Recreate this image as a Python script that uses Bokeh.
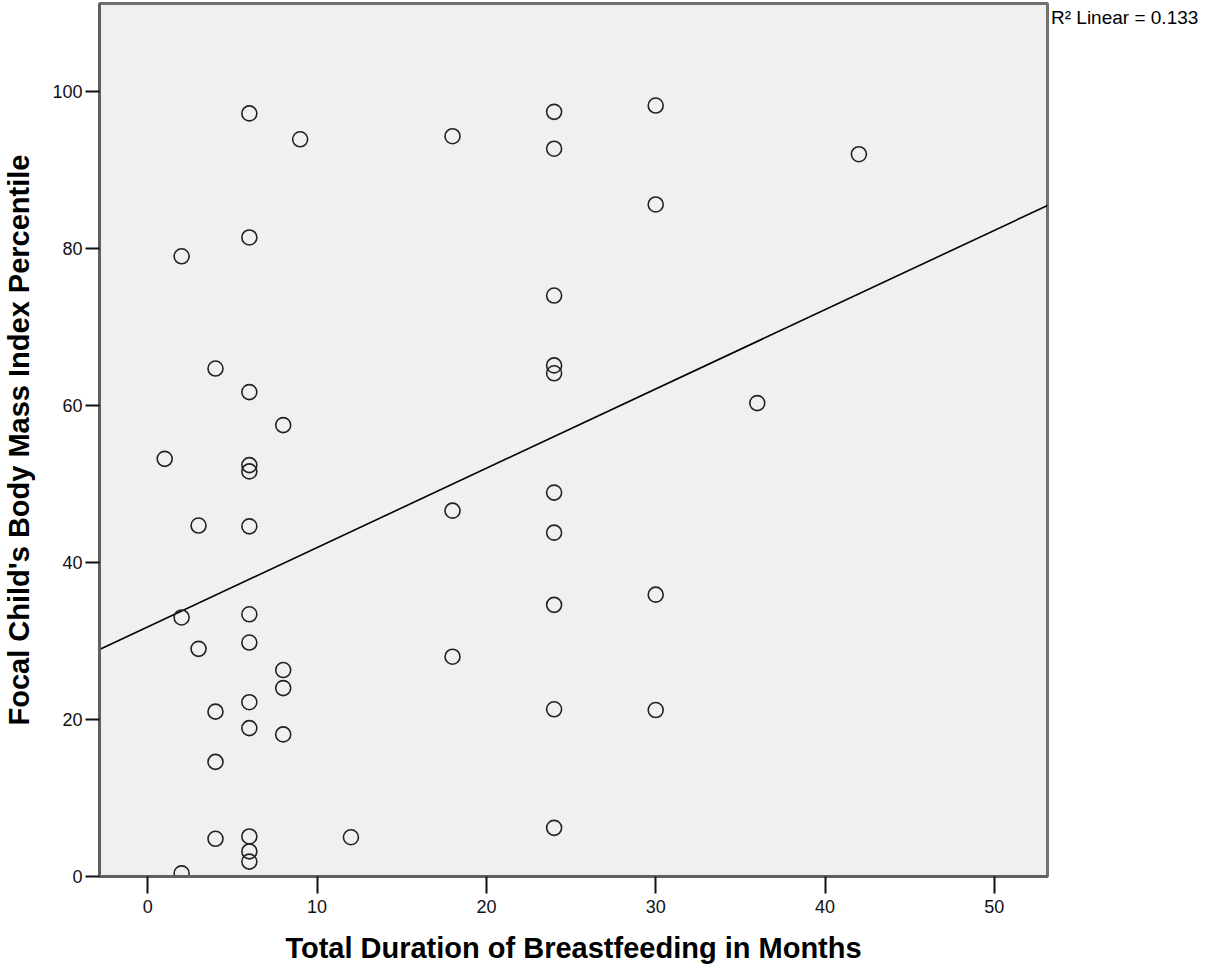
from bokeh.plotting import figure
from bokeh.models import Range1d, FixedTicker, ColumnDataSource, Legend, LegendItem
from bokeh.embed import file_html
from bokeh.resources import INLINE

# Data
bf_months = [6, 9, 18, 24, 24, 30, 30, 42, 6, 2, 24, 4, 24, 24, 6, 36, 8, 1, 6, 6,
             24, 18, 3, 6, 24, 24, 30, 2, 6, 3, 6, 18, 8, 8, 6, 4, 24, 30, 6, 8,
             4, 4, 6, 6, 6, 2, 12, 24]
bmi_pct = [97.2, 93.9, 94.3, 97.4, 92.7, 98.2, 85.6, 92.0, 81.4, 79.0, 74.0, 64.7, 65.1, 64.1,
           61.7, 60.3, 57.5, 53.2, 52.4, 51.6, 48.9, 46.6, 44.7, 44.6, 43.8, 34.6, 35.9, 33.0,
           33.4, 29.0, 29.8, 28.0, 26.3, 24.0, 22.2, 21.0, 21.3, 21.2, 18.9, 18.1, 14.6, 4.8,
           5.1, 3.2, 1.9, 0.4, 5.0, 6.2]
fit_intercept = 31.8
fit_slope = 1.01
r2_text = "R\u00b2 Linear = 0.133"
x_ticks = [0, 10, 20, 30, 40, 50]
y_ticks = [0, 20, 40, 60, 80, 100]

x_start, x_end = -2.85, 53.14
y_start, y_end = 0, 111.2

p = figure(frame_width=948, frame_height=873, output_backend="svg", toolbar_location=None,
           x_range=Range1d(x_start, x_end), y_range=Range1d(y_start, y_end),
           min_border_left=99, min_border_right=160, min_border_top=3,
           min_border_bottom=83)

p.background_fill_color = "#F0F0F0"
p.border_fill_color = "white"
p.outline_line_color = "#707070"
p.outline_line_width = 3
p.grid.visible = False

FONT = "Liberation Sans"
for ax in (p.xaxis[0], p.yaxis[0]):
    ax.axis_line_color = "#606060"
    ax.axis_line_width = 3
    ax.major_tick_line_color = "#111111"
    ax.major_tick_line_width = 2
    ax.major_tick_in = 0
    ax.minor_tick_line_color = None
    ax.major_label_text_font = FONT
    ax.major_label_text_font_size = "18px"
    ax.major_label_text_color = "#111111"
    ax.axis_label_text_font = FONT
    ax.axis_label_text_font_style = "bold"
    ax.axis_label_text_font_size = "29px"
    ax.axis_label_text_color = "#000000"

p.xaxis.ticker = FixedTicker(ticks=x_ticks)
p.yaxis.ticker = FixedTicker(ticks=y_ticks)
p.xaxis.major_tick_out = 17
p.yaxis.major_tick_out = 14
p.xaxis.major_label_standoff = 6
p.yaxis.major_label_standoff = 3
p.xaxis.axis_label = "Total Duration of Breastfeeding in Months"
p.yaxis.axis_label = "Focal Child's Body Mass Index Percentile"
p.xaxis.axis_label_standoff = 16
p.yaxis.axis_label_standoff = 14

# regression line
fx = [x_start, x_end]
fy = [fit_intercept + fit_slope * v for v in fx]
p.line(fx, fy, line_color="#000000", line_width=1.6)

src = ColumnDataSource(dict(x=bf_months, y=bmi_pct))
p.scatter("x", "y", source=src, marker="circle", size=15, fill_color=None,
          line_color="#222222", line_width=1.6)

# R-squared note outside the frame, via a glyph-less legend in the right panel
ghost = p.line(fx, fy, line_alpha=0)
leg = Legend(items=[LegendItem(label=r2_text, renderers=[ghost])],
             location="top_left", glyph_width=0, glyph_height=18, label_standoff=0,
             padding=0, margin=4, spacing=0, border_line_color=None,
             background_fill_alpha=0, label_text_font=FONT,
             label_text_font_size="19px", label_text_color="#000000")
p.add_layout(leg, "right")

open("out.html", "w").write(file_html(p, INLINE))
